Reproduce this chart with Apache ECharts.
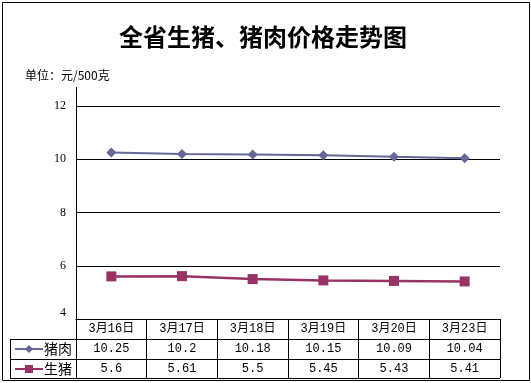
<!DOCTYPE html>
<html><head><meta charset="utf-8">
<script src="https://cdn.jsdelivr.net/npm/echarts@6/dist/echarts.min.js"></script>
<style>html,body{margin:0;padding:0;background:#fff}#c{width:531px;height:383px}</style>
</head><body><div id="c"></div>
<script>
const categories = ['3月16日','3月17日','3月18日','3月19日','3月20日','3月23日'];
const porkName = '猪肉';
const hogName = '生猪';
const porkValues = [10.25, 10.2, 10.18, 10.15, 10.09, 10.04];
const hogValues = [5.6, 5.61, 5.5, 5.45, 5.43, 5.41];
const yTicks = [4, 6, 8, 10, 12];

const GL = 76, GR = 500, GT = 106, GB = 319;
const chart = echarts.init(document.getElementById('c'), null, {renderer:'canvas'});
const mono = 'Liberation Mono, Noto Sans CJK SC, monospace';
chart.setOption({
  animation: false,
  backgroundColor: '#fff',
  title: [
    {text: '全省生猪、猪肉价格走势图', left: 114, top: 20,
     textStyle: {fontSize: 24, fontWeight: 'bold', color: '#000', fontFamily: 'Noto Sans CJK SC'}},
    {text: '单位：元/500克', left: 20, top: 64,
     textStyle: {fontSize: 12, fontWeight: 'normal', color: '#000', fontFamily: 'Noto Sans CJK SC'}}
  ],
  legend: {
    orient: 'vertical', left: 14, top: 339, padding: 0, itemWidth: 28, itemHeight: 10, itemGap: 0,
    data: [porkName, hogName],
    textStyle: {fontSize: 14, color: '#000', lineHeight: 20, padding: [0,0,0,-4], fontFamily: 'Noto Sans CJK SC'}
  },
  grid: {left: GL, right: 531 - GR, top: GT, bottom: 383 - GB, containLabel: false},
  xAxis: {
    type: 'category', data: categories, boundaryGap: true,
    axisLine: {lineStyle: {color: '#000', width: 1}},
    axisTick: {show: true, length: 59, lineStyle: {color: '#000'}},
    axisLabel: {
      margin: 0, interval: 0,
      formatter: (v, i) => `{c|${v}}\n{v|${porkValues[i]}}\n{v|${hogValues[i]}}`,
      rich: {
        c: {fontSize: 12, lineHeight: 20, color: '#000', fontFamily: mono},
        v: {fontSize: 12, lineHeight: 20, color: '#000', fontFamily: mono}
      }
    }
  },
  yAxis: {
    type: 'value', min: yTicks[0], max: yTicks[yTicks.length-1], interval: 2,
    axisLine: {show: true, lineStyle: {color: '#000'}},
    axisTick: {show: false},
    splitLine: {lineStyle: {color: '#000', width: 1}},
    axisLabel: {
      margin: 10, color: '#000', fontSize: 12, fontFamily: 'Liberation Serif',
      formatter: v => v === yTicks[0] ? '{low|' + v + '}' : String(v),
      rich: {low: {fontSize: 12, fontFamily: 'Liberation Serif', color: '#000', padding: [0,0,12,0]}}
    }
  },
  series: [
    {name: porkName, type: 'line', data: porkValues, symbol: 'diamond', symbolSize: 10,
     itemStyle: {color: '#666699'}, lineStyle: {color: '#666699', width: 2}},
    {name: hogName, type: 'line', data: hogValues, symbol: 'rect', symbolSize: 10,
     itemStyle: {color: '#993366'}, lineStyle: {color: '#993366', width: 2.5}}
  ],
  graphic: [
    {type: 'rect', shape: {x: 2.5, y: 2.5, width: 527, height: 378}, style: {fill: 'none', stroke: '#000', lineWidth: 1}, silent: true},
    {type: 'line', shape: {x1: GL + 0.5, y1: 87, x2: GL + 0.5, y2: GT}, style: {stroke: '#000', lineWidth: 1}},
    {type: 'line', shape: {x1: 10, y1: 339.5, x2: GR, y2: 339.5}, style: {stroke: '#000', lineWidth: 1}},
    {type: 'line', shape: {x1: 10, y1: 359.5, x2: GR, y2: 359.5}, style: {stroke: '#000', lineWidth: 1}},
    {type: 'line', shape: {x1: 10, y1: 378.5, x2: GR, y2: 378.5}, style: {stroke: '#000', lineWidth: 1}},
    {type: 'line', shape: {x1: 10.5, y1: 339, x2: 10.5, y2: 379}, style: {stroke: '#000', lineWidth: 1}}
  ]
});
</script></body></html>
